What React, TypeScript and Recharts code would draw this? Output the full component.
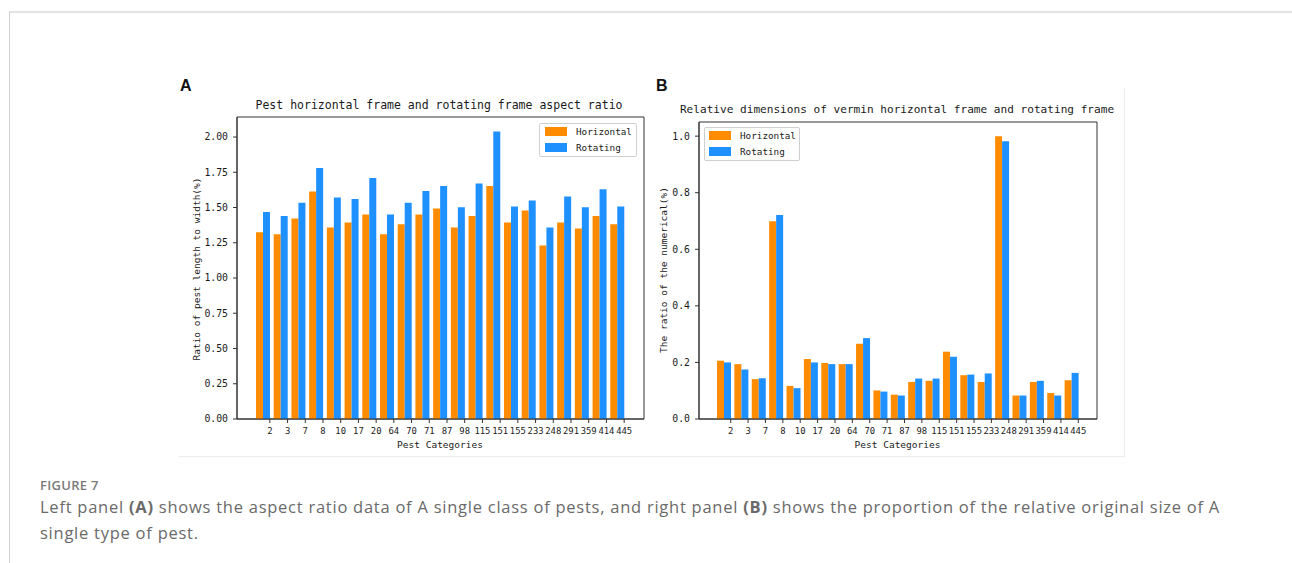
import React from 'react';
import { BarChart, Bar, XAxis, YAxis, CartesianGrid, Legend } from 'recharts';

// ---------- data ----------
const categories = ['2', '3', '7', '8', '10', '17', '20', '64', '70', '71', '87', '98', '115', '151', '155', '233', '248', '291', '359', '414', '445'];

const aspectHorizontal = [1.325, 1.311, 1.422, 1.613, 1.358, 1.394, 1.45, 1.311, 1.382, 1.45, 1.493, 1.358, 1.439, 1.653, 1.394, 1.479, 1.231, 1.394, 1.351, 1.439, 1.382];
const aspectRotating = [1.469, 1.439, 1.533, 1.781, 1.571, 1.561, 1.71, 1.45, 1.533, 1.618, 1.653, 1.502, 1.67, 2.04, 1.507, 1.55, 1.358, 1.578, 1.502, 1.63, 1.507];

const sizeHorizontal = [0.206, 0.194, 0.141, 0.699, 0.117, 0.212, 0.198, 0.194, 0.266, 0.101, 0.086, 0.131, 0.135, 0.238, 0.155, 0.131, 1.0, 0.083, 0.131, 0.092, 0.137];
const sizeRotating = [0.2, 0.175, 0.144, 0.721, 0.109, 0.2, 0.194, 0.194, 0.286, 0.097, 0.083, 0.143, 0.143, 0.22, 0.157, 0.161, 0.982, 0.083, 0.135, 0.083, 0.163];

const aspectTicks = [0, 0.25, 0.5, 0.75, 1.0, 1.25, 1.5, 1.75, 2.0];
const sizeTicks = [0, 0.2, 0.4, 0.6, 0.8, 1.0];

const seriesNames = ['Horizontal', 'Rotating'];
const seriesColors = ['#FF8C00', '#1E90FF'];

const aspectData = categories.map((c, i) => ({ category: c, horizontal: aspectHorizontal[i], rotating: aspectRotating[i] }));
const sizeData = categories.map((c, i) => ({ category: c, horizontal: sizeHorizontal[i], rotating: sizeRotating[i] }));

// ---------- styles ----------
const MONO = '"DejaVu Sans Mono", "Liberation Mono", monospace';
const INK = '#1a1a1a';
const SPINE = '#333';
const BAR = 7;
const TICK_SIZE = 4;
const TICK_MARGIN = 3;

const makeXTick = (dx: number) => (props: any) => {
  const { x, y, payload } = props;
  const axisY = y - TICK_SIZE - TICK_MARGIN;
  return (
    <g>
      <line x1={x + dx} x2={x + dx} y1={axisY} y2={axisY + TICK_SIZE} stroke={SPINE} strokeWidth={1} />
      <text x={x + dx} y={axisY + 12} textAnchor="middle" dominantBaseline="central" fontFamily={MONO} fontSize={8.9} fill={INK}>
        {payload.value}
      </text>
    </g>
  );
};

const frameH = (p: any) => [p.offset.top, p.offset.top + p.offset.height];
const frameV = (p: any) => [p.offset.left, p.offset.left + p.offset.width];

const makeLegend = (w: number, patchX: number, textX: number) => (props: any) => {
  const payload = props.payload || [];
  return (
    <div
      style={{
        width: w,
        height: 34,
        boxSizing: 'border-box',
        border: '1px solid #cfcfcf',
        borderRadius: 2,
        background: 'rgba(255,255,255,0.85)',
        position: 'relative',
        fontFamily: MONO,
        fontSize: 9.3,
        color: INK,
      }}
    >
      {payload.map((it: any, i: number) => (
        <div key={i} style={{ position: 'absolute', left: 0, top: 3 + i * 15.5, height: 9, width: w }}>
          <div style={{ position: 'absolute', left: patchX, top: 0, width: 22, height: 9, background: it.color }} />
          <div style={{ position: 'absolute', left: textX, top: -1, lineHeight: '11px', whiteSpace: 'nowrap' }}>{it.value}</div>
        </div>
      ))}
    </div>
  );
};

const Abs = ({ left, top, children, style }: any) => (
  <div style={{ position: 'absolute', left, top, ...style }}>{children}</div>
);

const Centered = ({ x, y, children, style, rotate }: any) => (
  <div
    style={{
      position: 'absolute',
      left: x,
      top: y,
      transform: `translate(-50%, -50%)${rotate ? ` rotate(${rotate}deg)` : ''}`,
      whiteSpace: 'nowrap',
      ...style,
    }}
  >
    {children}
  </div>
);

const captionStyle: React.CSSProperties = {
  fontFamily: '"Open Sans", sans-serif',
  fontSize: 16.5,
  letterSpacing: '0.75px',
  color: '#6a6a6a',
  lineHeight: '26px',
  whiteSpace: 'nowrap',
};

export default function App() {
  return (
    <div style={{ position: 'absolute', left: 0, top: 0, width: 1292, height: 563, background: '#fff', overflow: 'hidden' }}>
      {/* page frame */}
      <div style={{ position: 'absolute', left: 9, top: 11, width: 1283, height: 2, background: '#e2e2e2' }} />
      <div style={{ position: 'absolute', left: 9, top: 12, width: 1, height: 551, background: '#cfcfcf' }} />

      {/* figure image edges */}
      <div style={{ position: 'absolute', left: 1124, top: 88, width: 1, height: 368, background: '#ececec' }} />
      <div style={{ position: 'absolute', left: 179, top: 456, width: 946, height: 1, background: '#ececec' }} />

      {/* panel letters */}
      <Abs left={180} top={77} style={{ fontFamily: '"Liberation Sans", Arial, sans-serif', fontWeight: 700, fontSize: 16, color: '#111' }}>A</Abs>
      <Abs left={656} top={77} style={{ fontFamily: '"Liberation Sans", Arial, sans-serif', fontWeight: 700, fontSize: 16, color: '#111' }}>B</Abs>

      {/* titles */}
      <Centered x={439} y={105} style={{ fontFamily: MONO, fontSize: 11.5, color: INK }}>
        Pest horizontal frame and rotating frame aspect ratio
      </Centered>
      <Centered x={897} y={109} style={{ fontFamily: MONO, fontSize: 11.1, color: INK }}>
        Relative dimensions of vermin horizontal frame and rotating frame
      </Centered>

      {/* axis labels */}
      <Centered x={195.5} y={269} rotate={-90} style={{ fontFamily: MONO, fontSize: 9.5, color: INK }}>
        Ratio of pest length to width(%)
      </Centered>
      <Centered x={662.5} y={270} rotate={-90} style={{ fontFamily: MONO, fontSize: 9.5, color: INK }}>
        The ratio of the numerical(%)
      </Centered>
      <Centered x={440} y={444} style={{ fontFamily: MONO, fontSize: 9.5, color: INK }}>
        Pest Categories
      </Centered>
      <Centered x={897.5} y={444} style={{ fontFamily: MONO, fontSize: 9.5, color: INK }}>
        Pest Categories
      </Centered>

      {/* chart A */}
      <div style={{ position: 'absolute', left: 170, top: 80 }}>
        <BarChart width={490} height={380} data={aspectData} margin={{ top: 37, right: 16, bottom: 11, left: 27 }} barGap={0}>
          <CartesianGrid stroke={SPINE} strokeWidth={1} horizontalCoordinatesGenerator={frameH} verticalCoordinatesGenerator={frameV} />
          <XAxis
            dataKey="category"
            height={30}
            padding={{ left: 17, right: 18 }}
            interval={0}
            tick={makeXTick(BAR)}
            tickLine={false}
            tickSize={TICK_SIZE}
            tickMargin={TICK_MARGIN}
            axisLine={{ stroke: SPINE }}
          />
          <YAxis
            type="number"
            width={40}
            domain={[0, 2.142]}
            ticks={aspectTicks}
            allowDataOverflow
            tickFormatter={(v: number) => v.toFixed(2)}
            tick={{ fontSize: 9.8, fontFamily: MONO, fill: INK }}
            tickSize={TICK_SIZE}
            tickMargin={5}
            tickLine={{ stroke: SPINE }}
            axisLine={{ stroke: SPINE }}
          />
          <Bar dataKey="horizontal" name={seriesNames[0]} fill={seriesColors[0]} barSize={BAR} isAnimationActive={false} />
          <Bar dataKey="rotating" name={seriesNames[1]} fill={seriesColors[1]} barSize={BAR} isAnimationActive={false} />
          <Legend
            layout="vertical"
            align="center"
            verticalAlign="middle"
            wrapperStyle={{ left: 369, top: 43, width: 98 }}
            content={makeLegend(98, 5, 36)}
          />
        </BarChart>
      </div>

      {/* chart B */}
      <div style={{ position: 'absolute', left: 650, top: 80 }}>
        <BarChart width={460} height={380} data={sizeData} margin={{ top: 42, right: 13, bottom: 11, left: 14 }} barGap={0}>
          <CartesianGrid stroke={SPINE} strokeWidth={1} horizontalCoordinatesGenerator={frameH} verticalCoordinatesGenerator={frameV} />
          <XAxis
            dataKey="category"
            height={30}
            padding={{ left: 16, right: 17 }}
            interval={0}
            tick={makeXTick(BAR)}
            tickLine={false}
            tickSize={TICK_SIZE}
            tickMargin={TICK_MARGIN}
            axisLine={{ stroke: SPINE }}
          />
          <YAxis
            type="number"
            width={35}
            domain={[0, 1.05]}
            ticks={sizeTicks}
            allowDataOverflow
            tickFormatter={(v: number) => v.toFixed(1)}
            tick={{ fontSize: 9.8, fontFamily: MONO, fill: INK }}
            tickSize={TICK_SIZE}
            tickMargin={5}
            tickLine={{ stroke: SPINE }}
            axisLine={{ stroke: SPINE }}
          />
          <Bar dataKey="horizontal" name={seriesNames[0]} fill={seriesColors[0]} barSize={BAR} isAnimationActive={false} />
          <Bar dataKey="rotating" name={seriesNames[1]} fill={seriesColors[1]} barSize={BAR} isAnimationActive={false} />
          <Legend
            layout="vertical"
            align="center"
            verticalAlign="middle"
            wrapperStyle={{ left: 54, top: 47, width: 96 }}
            content={makeLegend(96, 4, 35)}
          />
        </BarChart>
      </div>

      {/* caption */}
      <Abs left={40} top={476} style={{ fontFamily: '"Open Sans", sans-serif', fontSize: 13, fontWeight: 600, color: '#7a7a7a', lineHeight: '18px', letterSpacing: '0.3px' }}>
        FIGURE 7
      </Abs>
      <Abs left={40} top={494} style={captionStyle}>
        <span>Left panel </span>
        <b>(A)</b>
        <span> shows the aspect ratio data of A single class of pests, and right panel </span>
        <b>(B)</b>
        <span> shows the proportion of the relative original size of A</span>
      </Abs>
      <Abs left={40} top={520} style={captionStyle}>
        single type of pest.
      </Abs>
    </div>
  );
}
